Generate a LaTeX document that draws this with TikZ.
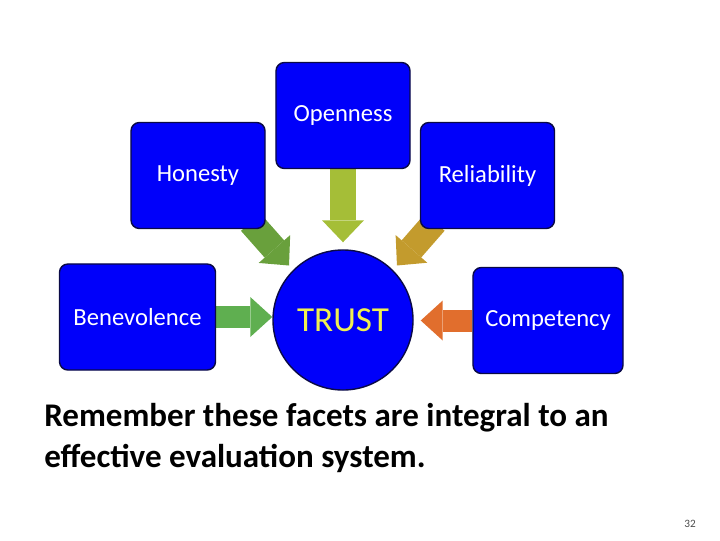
\documentclass[tikz,border=0pt]{standalone}
\usepackage{fontspec}
\setmainfont{Carlito}
\usetikzlibrary{arrows.meta, backgrounds}

\definecolor{facetblue}{RGB}{0,0,250}
\definecolor{facetedge}{RGB}{10,10,70}
\definecolor{trustyellow}{RGB}{240,240,80}
\definecolor{honestyarrow}{RGB}{105,160,60}
\definecolor{opennessarrow}{RGB}{165,190,55}
\definecolor{reliabilityarrow}{RGB}{195,155,45}
\definecolor{benevolencearrow}{RGB}{95,175,80}
\definecolor{competencyarrow}{RGB}{225,110,45}

\begin{document}
\begin{tikzpicture}[x=0.025cm, y=-0.025cm,
    facet/.style={draw=facetedge, line width=1pt, fill=facetblue, rounded corners=6pt,
        minimum width=3.35cm, minimum height=2.65cm, text=white,
        font=\fontsize{17.5}{20}\selectfont},
    bigarrow/.style={line width=0.65cm, -{Triangle[width=1.05cm, length=0.55cm, line width=0pt]}},
    sidearrow/.style={line width=0.55cm, -{Triangle[width=1cm, length=0.55cm, line width=0pt]}}]
    \useasboundingbox (0, 0) rectangle (720, 540);

    \node[facet] (openness) at (343, 115.5) {Openness};
    \node[facet] (honesty) at (198, 175.5) {Honesty};
    \node[facet] (reliability) at (487.5, 175.5) {Reliability};
    \node[facet, minimum width=3.9cm] (benevolence) at (137.5, 317) {Benevolence};
    \node[facet, minimum width=3.75cm] (competency) at (548, 320.5) {Competency};

    \node[circle, draw=facetedge, line width=1pt, fill=facetblue, minimum size=3.5cm,
        text=trustyellow, font=\fontsize{25}{28}\selectfont] (trust) at (343, 320) {TRUST};

    \begin{scope}[on background layer]
        \draw[bigarrow, draw=opennessarrow, shorten >=7*0.025cm] (openness.south) -- (trust.north);
        \draw[bigarrow, draw=honestyarrow, shorten >=0.15cm] ([shift={(-15,-7)}]honesty.south east) -- (trust.135);
        \draw[bigarrow, draw=reliabilityarrow, shorten >=0.15cm] ([shift={(15,-7)}]reliability.south west) -- (trust.45);
        \draw[sidearrow, draw=benevolencearrow] (benevolence.east) -- (benevolence.east -| trust.west);
        \draw[sidearrow, draw=competencyarrow, shorten >=7*0.025cm] (competency.west) -- (competency.west -| trust.east);
    \end{scope}

    \node[anchor=west, align=left, inner sep=0pt, font=\bfseries\fontsize{23.5}{29}\selectfont] (note) at (44, 438)
        {Remember these facets are integral to an\\effective evaluation system.};
    \node[text=black!70, font=\fontsize{8}{9}\selectfont] (page) at (690, 524) {32};
\end{tikzpicture}
\end{document}
